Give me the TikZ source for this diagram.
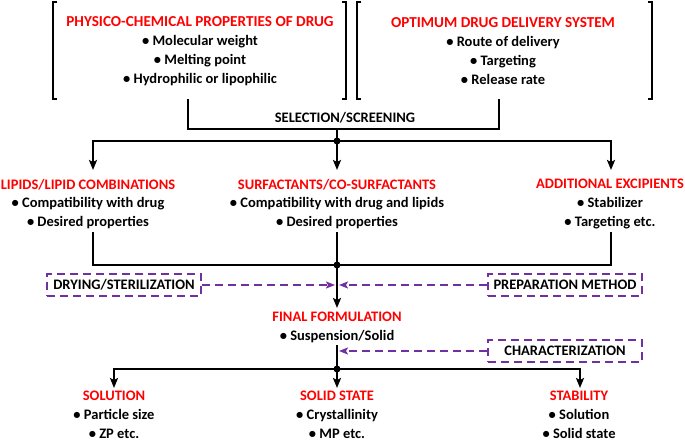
\documentclass[tikz,border=0pt]{standalone}
\usepackage{fontspec}
\setmainfont{Carlito}
\usetikzlibrary{arrows.meta}

\definecolor{headred}{RGB}{255,0,0}
\definecolor{stepviolet}{RGB}{112,48,160}

\tikzset{
	block/.style={align=center, inner sep=0pt,
		font=\bfseries\fontsize{14.5}{18.8}\selectfont},
	note/.style={inner sep=0pt, font=\bfseries\fontsize{14.5}{18.8}\selectfont},
	link/.style={line width=2pt},
	flow/.style={line width=2pt, -{Stealth[length=10pt,width=8pt,inset=2pt]}},
	junction/.style={circle, fill, inner sep=0pt, minimum size=7pt},
	extra/.style={draw=stepviolet, line width=2pt, dash pattern=on 8pt off 5pt,
		minimum width=154pt, minimum height=22pt, inner sep=0pt,
		font=\bfseries\fontsize{14.5}{18.8}\selectfont},
	feed/.style={stepviolet, line width=2pt, dash pattern=on 8pt off 5pt,
		-{Stealth[length=9pt,width=7pt,inset=2pt]}},
	bracket/.style={line width=2.5pt}
}

\newcommand{\head}[1]{\textcolor{headred}{#1}}

\begin{document}
\begin{tikzpicture}[x=1pt,y=-1pt]
	
	\useasboundingbox (0,0) rectangle (685,441);
	
	% Top blocks with brackets
	\node[block] (phys) at (200,51) {\head{\fontsize{15.2}{18.8}\selectfont PHYSICO-CHEMICAL PROPERTIES OF DRUG}\\
		• Molecular weight\\ • Melting point\\ • Hydrophilic or lipophilic};
	\node[block] (deliv) at (503,51) {\head{\fontsize{15.2}{18.8}\selectfont OPTIMUM DRUG DELIVERY SYSTEM}\\
		• Route of delivery\\ • Targeting\\ • Release rate};
	
	\draw[bracket] (57,2) -- (53,2) -- (53,99) -- (57,99);
	\draw[bracket] (342,2) -- (346,2) -- (346,99) -- (342,99);
	\draw[bracket] (361,2) -- (357,2) -- (357,99) -- (361,99);
	\draw[bracket] (648,2) -- (652,2) -- (652,99) -- (648,99);
	
	% Selection / screening
	\coordinate (selL) at (188,99);
	\coordinate (selR) at (499,99);
	\coordinate (sel) at (337,129);
	\coordinate (split) at (337,141);
	\draw[link] (selL) |- (sel) -| (selR);
	\node[note] (screen) at (345,118) {SELECTION/SCREENING};
	\draw[link] (sel) -- (split);
	
	% Excipient blocks
	\node[block] (lipids) at (88,204) {\head{LIPIDS/LIPID COMBINATIONS}\\
		• Compatibility with drug\\ • Desired properties};
	\node[block] (surf) at (337,204) {\head{SURFACTANTS/CO-SURFACTANTS}\\
		• Compatibility with drug and lipids\\ • Desired properties};
	\node[block] (addit) at (610,204) {\head{ADDITIONAL EXCIPIENTS}\\
		• Stabilizer\\ • Targeting etc.};
	
	\coordinate (lipidsIn) at (93,170);
	\coordinate (surfIn) at (337,170);
	\coordinate (additIn) at (611,170);
	\draw[flow] (split) -| (lipidsIn);
	\draw[flow] (split) -| (additIn);
	\draw[flow] (split) -- (surfIn);
	\node[junction] at (split) {};
	
	% Merging into the formulation
	\coordinate (lipidsOut) at (93,232);
	\coordinate (surfOut) at (337,232);
	\coordinate (additOut) at (611,232);
	\coordinate (merge) at (337,265);
	\coordinate (finalIn) at (337,308);
	\draw[link] (lipidsOut) |- (merge) -| (additOut);
	\draw[link] (surfOut) -- (merge);
	\draw[flow] (merge) -- (finalIn);
	\node[junction] at (merge) {};
	
	% Processing steps
	\node[extra] (dry) at (124,285) {DRYING/STERILIZATION};
	\node[extra] (prep) at (565,285) {PREPARATION METHOD};
	\coordinate (dryTip) at (335,285);
	\coordinate (prepTip) at (339,285);
	\draw[feed] (dry.east) -- (dryTip);
	\draw[feed] (prep.west) -- (prepTip);
	
	% Final formulation
	\node[block] (final) at (337,327) {\head{FINAL FORMULATION}\\
		• Suspension/Solid};
	
	\coordinate (finalOut) at (337,345);
	\coordinate (fork) at (337,369);
	\draw[link] (finalOut) -- (fork);
	
	\node[extra] (charac) at (565,351) {CHARACTERIZATION};
	\coordinate (characTip) at (339,351);
	\draw[feed] (charac.west) -- (characTip);
	
	% Evaluation blocks
	\node[block] (soln) at (114,414.5) {\head{SOLUTION}\\
		• Particle size\\ • ZP etc.};
	\node[block] (solid) at (337,414.5) {\head{SOLID STATE}\\
		• Crystallinity\\ • MP etc.};
	\node[block] (stab) at (579,414.5) {\head{STABILITY}\\
		• Solution\\ • Solid state};
	
	\coordinate (solnIn) at (114,388);
	\coordinate (solidIn) at (337,388);
	\coordinate (stabIn) at (580,388);
	\draw[flow] (fork) -| (solnIn);
	\draw[flow] (fork) -| (stabIn);
	\draw[flow] (fork) -- (solidIn);
	\node[junction] at (fork) {};
	
\end{tikzpicture}
\end{document}
